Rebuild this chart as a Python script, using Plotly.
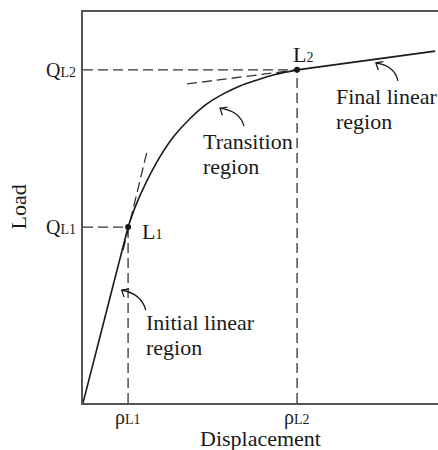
import math
import plotly.graph_objects as go

# ---------------- data (arbitrary units) ----------------
disp_initial = [0.0, 1.27]
load_initial = [0.0, 4.50]

disp_transition = [1.27, 1.49, 1.80, 2.17, 2.56, 3.01, 3.49, 3.94, 4.42, 4.90, 5.41, 6.03]
load_transition = [4.50, 5.06, 5.68, 6.30, 6.82, 7.27, 7.65, 7.90, 8.11, 8.26, 8.40, 8.52]

disp_final = [6.03, 9.92]
load_final = [8.52, 9.00]

rho_vals = [1.27, 6.03]          # ρL1, ρL2
q_vals = [4.50, 8.52]            # QL1, QL2
rho_labels = ["ρ<span style='font-size:14px'>L1</span>", "ρ<span style='font-size:14px'>L2</span>"]
q_labels = ["Q<span style='font-size:14px'>L1</span>", "Q<span style='font-size:14px'>L2</span>"]
point_labels = ["L<span style='font-size:14px'>1</span>", "L<span style='font-size:14px'>2</span>"]

tangent1_disp = [1.13, 1.80]
tangent1_load = [3.91, 6.42]
tangent2_disp = [2.93, 6.03]
tangent2_load = [8.16, 8.52]

region_texts = ["Transition", "region", "Final linear", "region", "Initial linear", "region"]
region_x = [3.32, 3.32, 7.07, 7.07, 1.72, 1.72]
region_y = [6.68, 6.04, 7.83, 7.19, 2.07, 1.43]

# curved arrows: head position (data), control & tail offsets (pixels, y up)
arrow_head_x = [3.86, 8.25, 1.09]
arrow_head_y = [7.54, 8.70, 2.89]
arrow_ctrl = [(20, -3), (19, -3), (20, -4)]
arrow_tail = [(24, -18), (22, -18), (24, -20)]

FONT = "Liberation Serif"
INK = "#1a1a1a"
DASH_COL = "#333333"
DASH = "10px,5px"

fig = go.Figure()

# dashed guide lines
for r, q in zip(rho_vals, q_vals):
    fig.add_trace(go.Scatter(x=[0, r], y=[q, q], mode="lines",
                             line=dict(color=DASH_COL, width=1.3, dash=DASH), hoverinfo="skip"))
    fig.add_trace(go.Scatter(x=[r, r], y=[0, q], mode="lines",
                             line=dict(color=DASH_COL, width=1.3, dash=DASH), hoverinfo="skip"))

# tangents
fig.add_trace(go.Scatter(x=tangent1_disp, y=tangent1_load, mode="lines",
                         line=dict(color=DASH_COL, width=1.3, dash=DASH)))
fig.add_trace(go.Scatter(x=tangent2_disp, y=tangent2_load, mode="lines",
                         line=dict(color=DASH_COL, width=1.3, dash=DASH)))

# curve
fig.add_trace(go.Scatter(x=disp_initial, y=load_initial, mode="lines",
                         line=dict(color=INK, width=1.6)))
fig.add_trace(go.Scatter(x=disp_transition, y=load_transition, mode="lines",
                         line=dict(color=INK, width=1.6, shape="spline", smoothing=1.0)))
fig.add_trace(go.Scatter(x=disp_final, y=load_final, mode="lines",
                         line=dict(color=INK, width=1.6)))

# points L1, L2
fig.add_trace(go.Scatter(x=rho_vals, y=q_vals, mode="markers",
                         marker=dict(color=INK, size=6), cliponaxis=False))

annotations = []
tick_font = dict(family=FONT, size=20, color=INK)
# x tick labels
for r, lab in zip(rho_vals, rho_labels):
    annotations.append(dict(x=r, y=-0.038, xref="x", yref="paper", text=lab, showarrow=False,
                            xanchor="center", yanchor="middle", font=tick_font))
# y tick labels
for q, lab in zip(q_vals, q_labels):
    annotations.append(dict(x=-0.015, y=q, xref="paper", yref="y", text=lab, showarrow=False,
                            xanchor="right", yanchor="middle", font=tick_font))
# point labels
annotations.append(dict(x=rho_vals[0], y=q_vals[0], text=point_labels[0], showarrow=False,
                        xanchor="left", yanchor="middle", xshift=12, yshift=-4,
                        font=dict(family=FONT, size=22, color=INK)))
annotations.append(dict(x=rho_vals[1], y=q_vals[1], text=point_labels[1], showarrow=False,
                        xanchor="center", yanchor="middle", xshift=6, yshift=15,
                        font=dict(family=FONT, size=22, color=INK)))
# region texts
for t, x, y in zip(region_texts, region_x, region_y):
    annotations.append(dict(x=x, y=y, text=t, showarrow=False, xanchor="left", yanchor="middle",
                            font=dict(family=FONT, size=22, color=INK)))
# axis titles
annotations.append(dict(xref="paper", yref="paper", x=-0.183, y=0.5, text="Load", textangle=-90,
                        showarrow=False, xanchor="center", yanchor="middle",
                        font=dict(family=FONT, size=22, color=INK)))
annotations.append(dict(xref="paper", yref="paper", x=0.5, y=-0.09, text="Displacement",
                        showarrow=False, xanchor="center", yanchor="middle",
                        font=dict(family=FONT, size=22, color=INK)))

# curved arrows
shapes = []
hd = (-0.85, 0.52)
norm = math.hypot(*hd)
head_dir = (hd[0] / norm, hd[1] / norm)
arm_len = 7.5
for hx, hy, (cx, cy), (tx, ty) in zip(arrow_head_x, arrow_head_y, arrow_ctrl, arrow_tail):
    bx, by = -head_dir[0], -head_dir[1]
    arms = []
    for ang in (math.radians(40), math.radians(-40)):
        ax_ = bx * math.cos(ang) - by * math.sin(ang)
        ay_ = bx * math.sin(ang) + by * math.cos(ang)
        arms.append((arm_len * ax_, arm_len * ay_))
    path = (f"M {tx},{ty} Q {cx},{cy} 0,0 "
            f"M {arms[0][0]:.2f},{arms[0][1]:.2f} L 0,0 L {arms[1][0]:.2f},{arms[1][1]:.2f}")
    shapes.append(dict(type="path", xref="x", yref="y", xsizemode="pixel", ysizemode="pixel",
                       xanchor=hx, yanchor=hy, path=path,
                       line=dict(color=INK, width=1.3)))

fig.update_layout(
    width=438, height=450,
    margin=dict(l=83, r=0, t=12, b=47),
    paper_bgcolor="white", plot_bgcolor="white",
    showlegend=False,
    annotations=annotations,
    shapes=shapes,
    xaxis=dict(range=[0, 10], showgrid=False, zeroline=False, showline=True, mirror=True,
               linecolor="#555555", linewidth=2, ticks="", showticklabels=False),
    yaxis=dict(range=[0, 10], showgrid=False, zeroline=False, showline=True, mirror=False,
               linecolor="#555555", linewidth=2, ticks="", showticklabels=False),
)

fig.write_html("out.html")
